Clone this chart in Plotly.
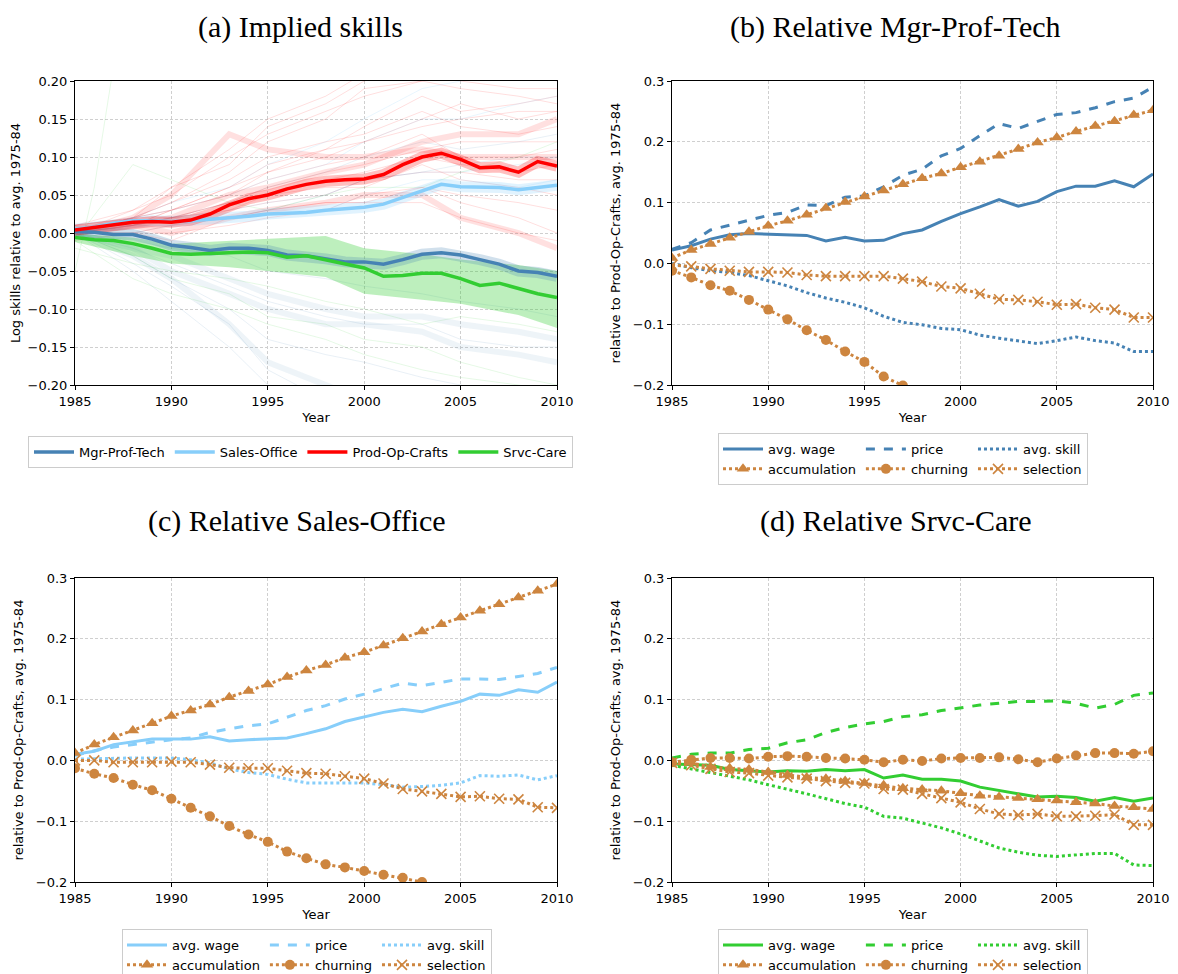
import plotly.graph_objects as go

years = list(range(1985, 2011))
sp_years = [1985, 1988, 1990, 1993, 1995, 1998, 2000, 2003, 2005, 2008, 2010]

# ---------------- Panel (a): implied skills ----------------
a_names = ["Mgr-Prof-Tech", "Sales-Office", "Prod-Op-Crafts", "Srvc-Care"]
a_mgr = [0.002, 0.001, -0.002, -0.002, -0.008, -0.016, -0.019, -0.023, -0.020, -0.020, -0.023, -0.029, -0.030,
         -0.034, -0.038, -0.038, -0.041, -0.035, -0.028, -0.026, -0.029, -0.035, -0.041, -0.050, -0.052, -0.057]
a_sales = [0.005, 0.008, 0.013, 0.016, 0.016, 0.015, 0.016, 0.018, 0.019, 0.022, 0.025, 0.026, 0.027,
           0.030, 0.032, 0.034, 0.038, 0.047, 0.056, 0.064, 0.061, 0.061, 0.060, 0.057, 0.060, 0.063]
a_prod = [0.004, 0.007, 0.011, 0.014, 0.015, 0.014, 0.017, 0.025, 0.037, 0.045, 0.050, 0.058, 0.064,
          0.068, 0.070, 0.071, 0.077, 0.090, 0.100, 0.105, 0.097, 0.086, 0.087, 0.080, 0.094, 0.088]
a_srvc = [-0.006, -0.009, -0.010, -0.014, -0.020, -0.027, -0.028, -0.027, -0.026, -0.025, -0.026, -0.032, -0.030,
          -0.035, -0.040, -0.046, -0.057, -0.056, -0.053, -0.053, -0.060, -0.069, -0.066, -0.073, -0.080, -0.085]
# green confidence band (sparse years)
a_srvc_upper = [-0.001, -0.006, -0.014, -0.010, -0.008, -0.004, -0.020, -0.028, -0.035, -0.042, -0.050]
a_srvc_lower = [-0.012, -0.030, -0.040, -0.045, -0.050, -0.058, -0.080, -0.088, -0.093, -0.108, -0.125]

# faint individual-occupation lines (sparse years)
faint_red = [
    [0.00, 0.02, 0.04, 0.08, 0.12, 0.15, 0.19, 0.20, 0.21, 0.22, 0.22],
    [0.00, 0.01, 0.03, 0.06, 0.08, 0.10, 0.12, 0.14, 0.15, 0.16, 0.16],
    [0.01, 0.02, 0.02, 0.04, 0.06, 0.08, 0.09, 0.11, 0.12, 0.12, 0.12],
    [0.00, 0.00, 0.01, 0.03, 0.04, 0.05, 0.07, 0.08, 0.08, 0.07, 0.07],
    [0.00, 0.01, 0.02, 0.02, 0.03, 0.04, 0.04, 0.04, 0.02, 0.00, -0.01],
    [-0.01, 0.00, 0.00, 0.01, 0.02, 0.03, 0.05, 0.06, 0.05, 0.04, 0.03],
    [0.01, 0.03, 0.05, 0.10, 0.13, 0.16, 0.18, 0.20, 0.19, 0.18, 0.17],
    [0.00, 0.02, 0.03, 0.05, 0.07, 0.09, 0.10, 0.13, 0.10, 0.10, 0.11],
    [0.00, 0.02, 0.04, 0.07, 0.10, 0.12, 0.13, 0.16, 0.14, 0.13, 0.14],
    [0.00, 0.01, 0.02, 0.04, 0.05, 0.07, 0.08, 0.10, 0.09, 0.08, 0.09],
    [0.01, 0.02, 0.06, 0.09, 0.14, 0.17, 0.20, 0.22, 0.20, 0.19, 0.19],
    [0.00, 0.00, -0.01, 0.02, 0.03, 0.04, 0.04, 0.06, 0.04, 0.02, 0.00],
    [0.00, 0.01, 0.03, 0.05, 0.08, 0.11, 0.12, 0.15, 0.17, 0.15, 0.16],
    [0.00, 0.02, 0.03, 0.06, 0.09, 0.11, 0.14, 0.18, 0.16, 0.17, 0.18],
    [0.01, 0.01, 0.02, 0.03, 0.05, 0.06, 0.06, 0.09, 0.07, 0.06, 0.05],
    [0.00, 0.03, 0.06, 0.11, 0.15, 0.18, 0.21, 0.23, 0.22, 0.21, 0.20],
]
thick_red = [
    [0.00, 0.02, 0.05, 0.13, 0.11, 0.10, 0.10, 0.11, 0.10, 0.10, 0.10],
    [0.00, 0.01, 0.00, 0.02, 0.03, 0.04, 0.05, 0.05, 0.02, 0.00, -0.02],
    [0.00, 0.01, 0.02, 0.05, 0.06, 0.08, 0.09, 0.12, 0.13, 0.13, 0.15],
]
faint_blue = [
    [0.00, -0.04, -0.07, -0.12, -0.18, -0.22, -0.24, -0.25, -0.26, -0.27, -0.27],
    [0.00, -0.01, -0.02, -0.03, -0.05, -0.06, -0.07, -0.08, -0.09, -0.10, -0.11],
    [0.00, 0.00, 0.01, 0.02, 0.03, 0.05, 0.07, 0.08, 0.09, 0.10, 0.10],
    [0.00, -0.03, -0.06, -0.10, -0.14, -0.16, -0.17, -0.19, -0.20, -0.22, -0.22],
    [0.00, -0.02, -0.04, -0.07, -0.09, -0.11, -0.12, -0.12, -0.14, -0.15, -0.15],
    [0.00, 0.01, 0.02, 0.04, 0.06, 0.08, 0.10, 0.12, 0.11, 0.12, 0.13],
    [0.00, -0.05, -0.09, -0.15, -0.20, -0.23, -0.25, -0.26, -0.27, -0.28, -0.28],
]
thick_blue = [
    [0.00, -0.02, -0.05, -0.08, -0.10, -0.12, -0.12, -0.13, -0.15, -0.16, -0.17],
    [0.00, -0.02, -0.03, -0.06, -0.08, -0.10, -0.11, -0.11, -0.12, -0.13, -0.14],
    [0.00, -0.03, -0.06, -0.12, -0.17, -0.20, -0.22, -0.23, -0.24, -0.25, -0.25],
]
faint_lblue = [
    [0.00, 0.02, 0.03, 0.05, 0.07, 0.09, 0.12, 0.15, 0.15, 0.17, 0.18],
    [0.00, 0.01, 0.01, 0.02, 0.03, 0.03, 0.05, 0.07, 0.07, 0.06, 0.07],
    [0.00, 0.01, 0.02, 0.03, 0.04, 0.05, 0.07, 0.08, 0.08, 0.09, 0.10],
    [0.00, 0.02, 0.04, 0.06, 0.09, 0.12, 0.15, 0.19, 0.20, 0.21, 0.20],
]
faint_green = [
    [-0.01, -0.06, -0.08, -0.10, -0.12, -0.14, -0.16, -0.18, -0.19, -0.20, -0.21],
    [0.00, -0.03, -0.06, -0.08, -0.11, -0.12, -0.14, -0.15, -0.17, -0.19, -0.20],
    [-0.01, 0.09, 0.07, 0.04, 0.03, 0.05, 0.06, 0.06, 0.08, 0.10, 0.12],
    [-0.02, -0.04, -0.05, -0.06, -0.07, -0.09, -0.10, -0.12, -0.11, -0.12, -0.13],
]
spike_green_years = [1985, 1986, 1987]
spike_green = [-0.05, 0.06, 0.22]

# ---------------- Panels (b)-(d): decompositions ----------------
comp_names = ["avg. wage", "price", "avg. skill", "accumulation", "churning", "selection"]

b_wage = [0.022, 0.029, 0.040, 0.047, 0.049, 0.048, 0.047, 0.046, 0.037, 0.043, 0.037, 0.038, 0.049,
          0.055, 0.069, 0.082, 0.093, 0.105, 0.094, 0.102, 0.118, 0.127, 0.127, 0.136, 0.126, 0.147]
b_price = [0.023, 0.034, 0.055, 0.063, 0.071, 0.079, 0.084, 0.096, 0.095, 0.109, 0.111, 0.126, 0.145,
           0.155, 0.177, 0.189, 0.210, 0.230, 0.222, 0.234, 0.245, 0.248, 0.256, 0.266, 0.272, 0.290]
b_skill = [0.000, -0.007, -0.012, -0.015, -0.020, -0.029, -0.037, -0.048, -0.057, -0.064, -0.073, -0.087, -0.097,
           -0.101, -0.107, -0.109, -0.118, -0.123, -0.128, -0.132, -0.127, -0.121, -0.127, -0.131, -0.145, -0.145]
b_accum = [0.009, 0.022, 0.032, 0.042, 0.052, 0.062, 0.070, 0.080, 0.091, 0.101, 0.110, 0.120, 0.130,
           0.140, 0.148, 0.158, 0.167, 0.177, 0.188, 0.199, 0.207, 0.217, 0.226, 0.234, 0.244, 0.252]
b_churn = [-0.012, -0.023, -0.036, -0.045, -0.060, -0.076, -0.092, -0.110, -0.126, -0.145, -0.162, -0.186, -0.201]
b_select = [-0.003, -0.005, -0.009, -0.012, -0.014, -0.014, -0.015, -0.019, -0.021, -0.021, -0.021, -0.021, -0.025,
            -0.030, -0.038, -0.041, -0.050, -0.059, -0.060, -0.063, -0.068, -0.067, -0.073, -0.076, -0.089, -0.089]

c_wage = [0.010, 0.015, 0.026, 0.030, 0.035, 0.035, 0.035, 0.039, 0.032, 0.034, 0.035, 0.037, 0.044,
          0.052, 0.064, 0.071, 0.079, 0.084, 0.080, 0.089, 0.097, 0.109, 0.107, 0.116, 0.112, 0.129]
c_price = [0.008, 0.016, 0.022, 0.026, 0.031, 0.034, 0.037, 0.046, 0.052, 0.057, 0.060, 0.071, 0.082,
           0.090, 0.101, 0.109, 0.118, 0.127, 0.123, 0.128, 0.134, 0.134, 0.133, 0.138, 0.143, 0.153]
c_skill = [0.002, 0.003, 0.004, 0.004, 0.004, 0.004, 0.001, -0.004, -0.014, -0.020, -0.023, -0.031, -0.037,
           -0.037, -0.036, -0.037, -0.040, -0.044, -0.043, -0.041, -0.037, -0.025, -0.026, -0.024, -0.032, -0.025]
c_accum = [0.012, 0.026, 0.038, 0.049, 0.061, 0.073, 0.082, 0.092, 0.104, 0.114, 0.125, 0.137, 0.148,
           0.157, 0.169, 0.178, 0.189, 0.201, 0.212, 0.224, 0.235, 0.246, 0.257, 0.268, 0.279, 0.290]
c_churn = [-0.013, -0.022, -0.029, -0.040, -0.049, -0.063, -0.078, -0.092, -0.108, -0.122, -0.134, -0.150, -0.161,
           -0.171, -0.176, -0.182, -0.188, -0.193, -0.200]
c_select = [0.000, 0.000, -0.003, -0.003, -0.003, -0.002, -0.003, -0.007, -0.012, -0.013, -0.013, -0.017, -0.021,
            -0.022, -0.026, -0.030, -0.038, -0.047, -0.051, -0.055, -0.060, -0.059, -0.063, -0.064, -0.077, -0.078]

d_wage = [-0.006, -0.007, -0.008, -0.015, -0.017, -0.019, -0.017, -0.018, -0.015, -0.017, -0.015, -0.029, -0.024,
          -0.031, -0.031, -0.034, -0.044, -0.050, -0.055, -0.060, -0.059, -0.061, -0.067, -0.061, -0.067, -0.062]
d_price = [0.004, 0.010, 0.012, 0.012, 0.018, 0.020, 0.029, 0.034, 0.046, 0.054, 0.060, 0.064, 0.072,
           0.075, 0.082, 0.087, 0.091, 0.094, 0.097, 0.097, 0.098, 0.094, 0.086, 0.092, 0.107, 0.111]
d_skill = [-0.008, -0.014, -0.019, -0.025, -0.032, -0.040, -0.047, -0.055, -0.063, -0.071, -0.077, -0.092, -0.095,
           -0.103, -0.111, -0.121, -0.133, -0.144, -0.151, -0.156, -0.158, -0.155, -0.153, -0.153, -0.172, -0.173]
d_accum = [-0.003, -0.004, -0.011, -0.013, -0.015, -0.019, -0.024, -0.028, -0.030, -0.034, -0.037, -0.041, -0.046,
           -0.048, -0.050, -0.054, -0.058, -0.060, -0.062, -0.064, -0.066, -0.069, -0.071, -0.075, -0.077, -0.080]
d_churn = [-0.003, 0.001, 0.004, 0.004, 0.003, 0.006, 0.007, 0.006, 0.004, 0.003, 0.001, -0.003, 0.001,
           -0.001, 0.003, 0.004, 0.004, 0.005, 0.002, -0.003, 0.003, 0.008, 0.012, 0.012, 0.011, 0.015]
d_select = [-0.004, -0.008, -0.014, -0.019, -0.021, -0.025, -0.028, -0.030, -0.034, -0.037, -0.038, -0.047, -0.048,
            -0.055, -0.062, -0.069, -0.080, -0.088, -0.090, -0.088, -0.092, -0.092, -0.091, -0.089, -0.106, -0.106]

titles = ["(a) Implied skills", "(b) Relative Mgr-Prof-Tech", "(c) Relative Sales-Office", "(d) Relative Srvc-Care"]

# ---------------- styling ----------------
C_MGR = "#4682B4"
C_SALES = "#87CEFA"
C_PROD = "#FF0000"
C_SRVC = "#32CD32"
C_COMP = "#CD853F"
TICKFONT = dict(family="DejaVu Sans", size=13, color="black")
# the page body has an 8px margin: the figure starts at (8, 8) in the window
OFF = 8
FW, FH = 1178 - 2 * OFF, 974 - OFF

def px(x):
    return (x - OFF) / FW

def py(y):
    return 1 - (y - OFF) / FH

fig = go.Figure()

def rgba(hexc, a):
    h = hexc.lstrip("#")
    return "rgba(%d,%d,%d,%.3f)" % (int(h[0:2], 16), int(h[2:4], 16), int(h[4:6], 16), a)

def faint(xs, ys, col, a, w):
    fig.add_trace(go.Scatter(x=xs, y=ys, mode="lines", line=dict(color=rgba(col, a), width=w),
                             showlegend=False, hoverinfo="skip", xaxis="x", yaxis="y"))

# ---- panel (a) ----
for ys in faint_red:
    faint(sp_years, ys, C_PROD, 0.13, 1)
for ys in faint_blue:
    faint(sp_years, ys, C_MGR, 0.12, 1)
for ys in faint_lblue:
    faint(sp_years, ys, C_SALES, 0.18, 1)
for ys in faint_green:
    faint(sp_years, ys, C_SRVC, 0.12, 1)
faint(spike_green_years, spike_green, C_SRVC, 0.12, 1)
for ys in thick_red:
    faint(sp_years, ys, C_PROD, 0.12, 6)
for ys in thick_blue:
    faint(sp_years, ys, C_MGR, 0.09, 6)

# green band
fig.add_trace(go.Scatter(x=sp_years, y=a_srvc_upper, mode="lines", line=dict(width=0, color=rgba(C_SRVC, 0)),
                         showlegend=False, hoverinfo="skip", xaxis="x", yaxis="y"))
fig.add_trace(go.Scatter(x=sp_years, y=a_srvc_lower, mode="lines", line=dict(width=0, color=rgba(C_SRVC, 0)),
                         fill="tonexty", fillcolor=rgba(C_SRVC, 0.32),
                         showlegend=False, hoverinfo="skip", xaxis="x", yaxis="y"))

a_series = [(a_mgr, C_MGR), (a_sales, C_SALES), (a_prod, C_PROD), (a_srvc, C_SRVC)]
# thick translucent halos for the narrow bands
for ys, col in a_series[:3]:
    fig.add_trace(go.Scatter(x=years, y=ys, mode="lines", line=dict(color=rgba(col, 0.25), width=11),
                             showlegend=False, hoverinfo="skip", xaxis="x", yaxis="y"))
for (ys, col), nm in zip(a_series, a_names):
    fig.add_trace(go.Scatter(x=years, y=ys, mode="lines", name=nm, line=dict(color=col, width=3.5),
                             legend="legend", xaxis="x", yaxis="y"))

# ---- panels (b)-(d) ----
panels = [
    ("x2", "y2", "legend2", C_MGR, [b_wage, b_price, b_skill, b_accum, b_churn, b_select]),
    ("x3", "y3", "legend3", C_SALES, [c_wage, c_price, c_skill, c_accum, c_churn, c_select]),
    ("x4", "y4", "legend4", C_SRVC, [d_wage, d_price, d_skill, d_accum, d_churn, d_select]),
]
line_styles = [("solid", None), ("dash", None), ("dot", None),
               ("dot", "triangle-up"), ("dot", "circle"), ("dot", "x-thin-open")]
groups = ["g1", "g2", "g3", "g1", "g2", "g3"]

for xa, ya, lg, col, data in panels:
    for i, (ys, nm) in enumerate(zip(data, comp_names)):
        dash, sym = line_styles[i]
        c = col if i < 3 else C_COMP
        tr = dict(x=years[:len(ys)], y=ys, name=nm, legend=lg, legendgroup=lg + groups[i],
                  xaxis=xa, yaxis=ya, hoverinfo="x+y")
        if sym is None:
            tr.update(mode="lines", line=dict(color=c, width=3, dash=dash))
        else:
            mk = dict(symbol=sym, size=11, color=c)
            if sym == "x-thin-open":
                mk.update(size=10, line=dict(color=c, width=1.6))
            if sym == "circle":
                mk.update(size=10)
            tr.update(mode="lines+markers", line=dict(color=c, width=3, dash=dash), marker=mk)
        fig.add_trace(go.Scatter(**tr))

# ---- axes ----
XL = [px(75), px(557)]
XR = [px(672), px(1153)]
YT = [py(385), py(81)]
YB = [py(882), py(578)]
GRID = dict(showgrid=True, gridcolor="#cfcfcf", griddash="3px,2px", gridwidth=0.7)

def xax(dom, anchor):
    return dict(domain=dom, anchor=anchor, range=[1985, 2010], tickmode="array",
                tickvals=[1985, 1990, 1995, 2000, 2005, 2010], ticks="outside", ticklen=4, tickcolor="black",
                showline=True, linecolor="black", linewidth=1, mirror=True, automargin=False,
                zeroline=False, tickfont=TICKFONT, **GRID,
                title=dict(text="Year", font=TICKFONT, standoff=5))

def yax(dom, anchor, rng, dt, fmt, title):
    return dict(domain=dom, anchor=anchor, range=rng, dtick=dt, tick0=0, tickformat=fmt,
                ticks="outside", ticklen=4, tickcolor="black", automargin=False,
                showline=True, linecolor="black", linewidth=1, mirror=True,
                zeroline=False, tickfont=TICKFONT, **GRID,
                title=dict(text=title, font=dict(family="DejaVu Sans", size=13, color="black"), standoff=9))

ylab_a = "Log skills relative to avg. 1975-84"
ylab = "relative to Prod-Op-Crafts, avg. 1975-84"

leg_common = dict(orientation="h", bgcolor="white", bordercolor="#cccccc", borderwidth=1,
                  font=dict(family="DejaVu Sans", size=13, color="black"),
                  xanchor="left", yanchor="top")

fig.update_layout(
    width=FW, height=FH, margin=dict(l=0, r=0, t=0, b=0, autoexpand=False),
    paper_bgcolor="white", plot_bgcolor="white",
    xaxis=xax(XL, "y"), yaxis=yax(YT, "x", [-0.2, 0.2], 0.05, ".2f", ylab_a),
    xaxis2=xax(XR, "y2"), yaxis2=yax(YT, "x2", [-0.2, 0.3], 0.1, ".1f", ylab),
    xaxis3=xax(XL, "y3"), yaxis3=yax(YB, "x3", [-0.2, 0.3], 0.1, ".1f", ylab),
    xaxis4=xax(XR, "y4"), yaxis4=yax(YB, "x4", [-0.2, 0.3], 0.1, ".1f", ylab),
    legend=dict(**leg_common, x=px(28), y=py(436), itemwidth=40, traceorder="normal"),
    legend2=dict(**leg_common, x=px(718), y=py(433), traceorder="grouped", tracegroupgap=0, itemwidth=40),
    legend3=dict(**leg_common, x=px(122), y=py(929), traceorder="grouped", tracegroupgap=0, itemwidth=40),
    legend4=dict(**leg_common, x=px(718), y=py(929), traceorder="grouped", tracegroupgap=0, itemwidth=40),
    showlegend=True,
)

# titles: top-anchored (top row at the very top of the figure)
title_pos = [(300, 9), (895, 9), (297, 503), (896, 503)]
for t, (tx, ty) in zip(titles, title_pos):
    fig.add_annotation(text=t, x=px(tx), y=py(ty), xref="paper", yref="paper",
                       xanchor="center", yanchor="top", showarrow=False, borderpad=0,
                       font=dict(family="Liberation Serif", size=30, color="black"))

fig.write_html("out.html")
